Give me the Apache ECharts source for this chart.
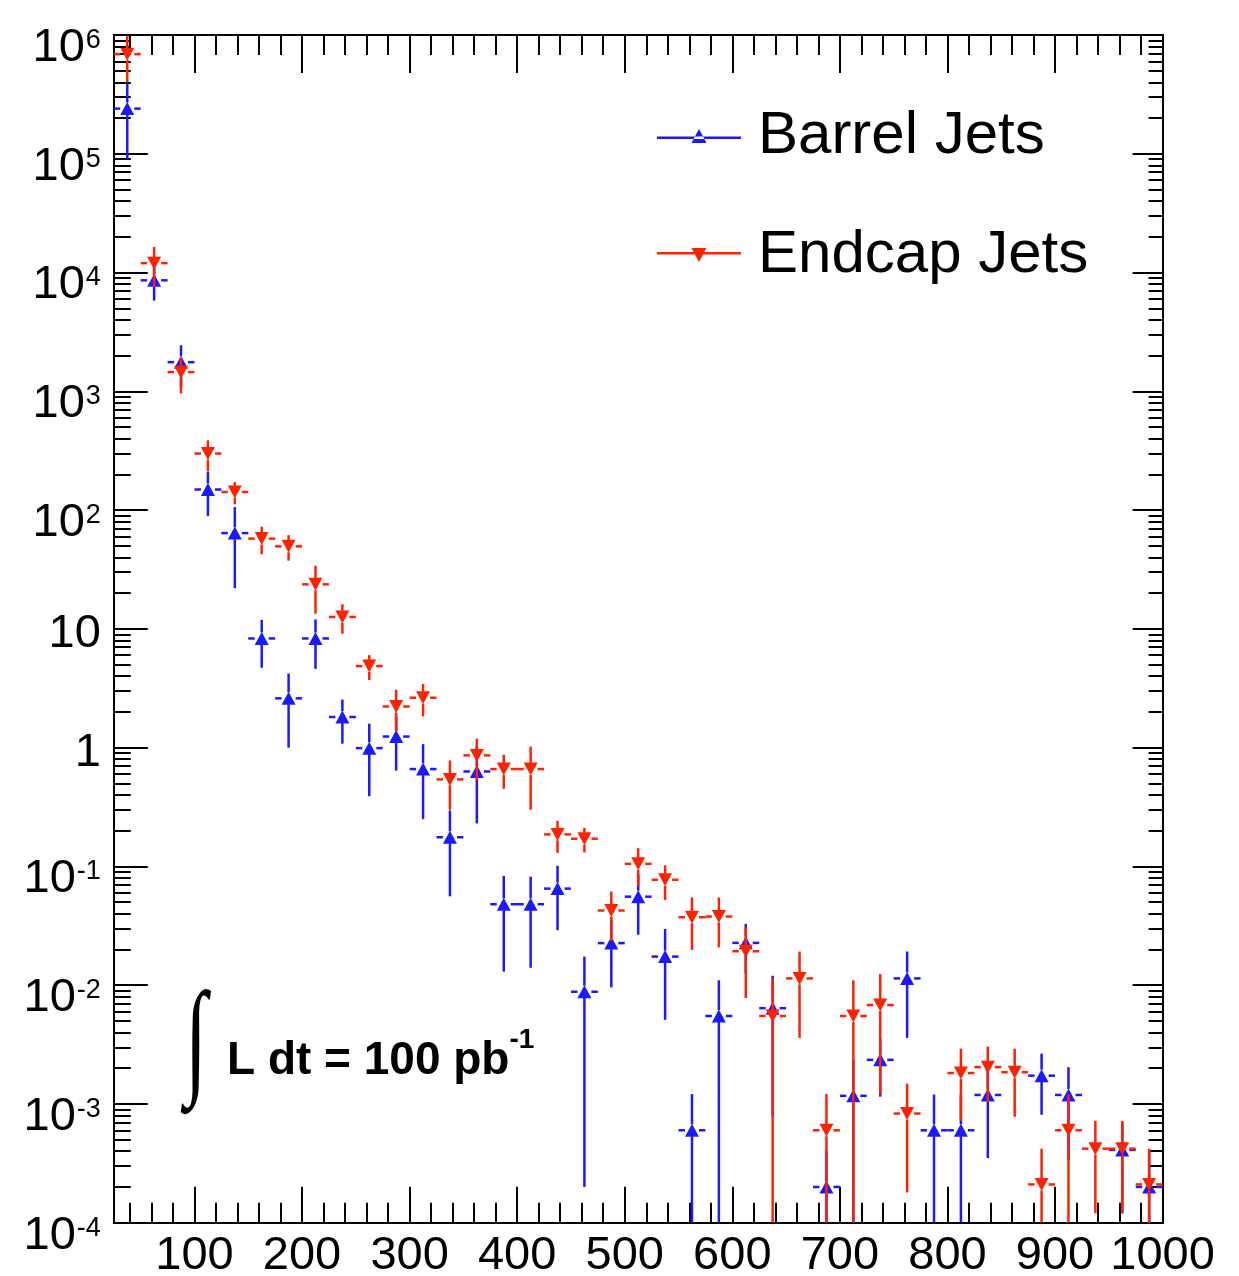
<!DOCTYPE html>
<html><head><meta charset="utf-8">
<script src="https://cdn.jsdelivr.net/npm/echarts@6/dist/echarts.min.js"></script>
<style>html,body{margin:0;padding:0;background:#fff;}#c{width:1239px;height:1276px;}</style>
</head><body><div id="c"></div>
<script>
// ---- data ----
const BIN_WIDTH = 25;
const binCenters = [37.5, 62.5, 87.5, 112.5, 137.5, 162.5, 187.5, 212.5, 237.5, 262.5,
  287.5, 312.5, 337.5, 362.5, 387.5, 412.5, 437.5, 462.5, 487.5, 512.5,
  537.5, 562.5, 587.5, 612.5, 637.5, 662.5, 687.5, 712.5, 737.5, 762.5,
  787.5, 812.5, 837.5, 862.5, 887.5, 912.5, 937.5, 962.5, 987.5];
const barrelValues = [2.4e5, 8.6e3, 1760, 149, 64, 8.3, 2.6, 8.3, 1.81, 0.99,
  1.24, 0.66, 0.176, 0.63, 0.048, 0.048, 0.065, 0.0088, 0.0226, 0.0556,
  0.0174, 6.0e-4, 0.0055, 0.0227, 0.0064, null, 2.0e-4, 1.17e-3, 2.35e-3, 0.0114,
  6.0e-4, 6.0e-4, 1.19e-3, null, 1.73e-3, 1.19e-3, null, 4.1e-4, 2.0e-4];
const barrelErrors = [1.5e5, 2.8e3, 680, 60, 42, 3.6, 1.6, 3.7, 0.73, 0.6,
  0.6, 0.41, 0.12, 0.4, 0.035, 0.034, 0.036, 0.0086, 0.013, 0.029,
  0.0123, 6.1e-4, 0.0055, 0.0101, 0.0056, null, 2.0e-4, 1.17e-3, 1.2e-3, 0.0078,
  6.0e-4, 6.0e-4, 8.4e-4, null, 9.2e-4, 8.5e-4, null, 2.9e-4, 2.0e-4];
const endcapValues = [6.9e5, 1.2e4, 1450, 299, 142, 57.5, 49.5, 23.7, 12.6, 4.86,
  2.22, 2.63, 0.54, 0.86, 0.66, 0.66, 0.186, 0.171, 0.0425, 0.105,
  0.0771, 0.0373, 0.0378, 0.0193, 0.0055, 0.0114, 6.0e-4, 0.0055, 0.0068, 8.3e-4,
  null, 1.82e-3, 2.04e-3, 1.85e-3, 2.1e-4, 6.0e-4, 4.2e-4, 4.2e-4, 2.1e-4];
const endcapErrors = [2.9e5, 4.4e3, 490, 88, 30, 15, 12, 10.3, 3.5, 1.15,
  0.85, 0.8, 0.24, 0.33, 0.21, 0.36, 0.056, 0.04, 0.019, 0.037,
  0.025, 0.0175, 0.017, 0.0115, 0.0059, 0.0078, 6.1e-4, 0.0055, 0.0056, 6.5e-4,
  null, 1.1e-3, 1.0e-3, 1.07e-3, 2.1e-4, 6.0e-4, 3.0e-4, 3.0e-4, 2.1e-4];
const seriesNames = ['Barrel Jets', 'Endcap Jets'];
const xTickLabels = [100, 200, 300, 400, 500, 600, 700, 800, 900, 1000];
const yTickValues = [1e-4, 1e-3, 1e-2, 1e-1, 1, 10, 1e2, 1e3, 1e4, 1e5, 1e6];
const yTickExponents = [-4, -3, -2, -1, 0, 1, 2, 3, 4, 5, 6];
const annotationText = 'L dt = 100 pb';
const annotationSup = '-1';

// ---- styling ----
const FONT = '"Liberation Sans Narrow", "Liberation Sans", Arial, sans-serif';
const BLUE = '#1a1aff';
const RED = '#ff2200';
const X_MIN = 25, X_MAX = 1000, Y_MIN = 1e-4, Y_MAX = 1e6;

const xMinorTicks = [];
for (let v = 40; v < X_MAX; v += 20) if (v % 100 !== 0) xMinorTicks.push(v);
const yMinorTicks = [];
for (let n = -4; n < 6; n++) for (let k = 2; k <= 9; k++) yMinorTicks.push(k * Math.pow(10, n));

function pointData(vals) {
  const out = [];
  binCenters.forEach((c, i) => { if (vals[i] != null) out.push([c, vals[i]]); });
  return out;
}
function errData(vals, errs) {
  const out = [];
  binCenters.forEach((c, i) => { if (vals[i] != null) out.push([c, vals[i], errs[i]]); });
  return out;
}
function makeErrRender(color) {
  return function (params, api) {
    const x = api.value(0), v = api.value(1), e = api.value(2);
    const cs = params.coordSys;
    const top = cs.y, bottom = cs.y + cs.height;
    const c = api.coord([x, v]);
    const yHi = Math.max(top, api.coord([x, v + e])[1]);
    const yLo = (v - e) > 0 ? Math.min(bottom, api.coord([x, v - e])[1]) : bottom;
    const xL = Math.max(cs.x, api.coord([x - BIN_WIDTH / 2, v])[0]);
    const xR = Math.min(cs.x + cs.width, api.coord([x + BIN_WIDTH / 2, v])[0]);
    const GV = 6, GH = 7;
    const st = () => ({ stroke: color, lineWidth: 2.5, fill: null });
    const ch = [];
    if (c[1] - GV > yHi) ch.push({ type: 'line', shape: { x1: c[0], y1: yHi, x2: c[0], y2: c[1] - GV }, style: st() });
    if (yLo > c[1] + GV) ch.push({ type: 'line', shape: { x1: c[0], y1: c[1] + GV, x2: c[0], y2: yLo }, style: st() });
    ch.push({ type: 'line', shape: { x1: xL, y1: c[1], x2: c[0] - GH, y2: c[1] }, style: st() });
    ch.push({ type: 'line', shape: { x1: c[0] + GH, y1: c[1], x2: xR, y2: c[1] }, style: st() });
    return { type: 'group', children: ch };
  };
}

const AXIS_LINE = { show: true, lineStyle: { color: '#000', width: 2 } };
function xAxisDef(pos, ticks, len, labels) {
  return {
    type: 'value', position: pos, min: X_MIN, max: X_MAX, gridIndex: 0,
    axisLine: AXIS_LINE, splitLine: { show: false },
    axisTick: { show: true, inside: true, length: len, customValues: ticks, lineStyle: { color: '#000', width: 2 } },
    axisLabel: labels ? {
      show: true, customValues: xTickLabels, margin: 10, fontSize: 47, fontFamily: FONT, color: '#000',
      formatter: v => String(v)
    } : { show: false }
  };
}
function yAxisDef(pos, ticks, len, labels) {
  return {
    type: 'log', logBase: 10, position: pos, min: Y_MIN, max: Y_MAX, gridIndex: 0,
    axisLine: AXIS_LINE, splitLine: { show: false },
    axisTick: { show: true, inside: true, length: len, customValues: ticks, lineStyle: { color: '#000', width: 2 } },
    axisLabel: labels ? {
      show: true, customValues: yTickValues, margin: 13, fontFamily: FONT, color: '#000',
      formatter: v => {
        const i = yTickValues.findIndex(t => Math.abs(Math.log10(t) - Math.log10(v)) < 1e-6);
        const n = yTickExponents[i];
        if (n === 0) return '{p|1}';
        if (n === 1) return '{p|10}';
        return '{m|10}{s|' + n + '}';
      },
      rich: {
        p: { fontSize: 47, fontFamily: FONT, color: '#000', lineHeight: 40, padding: [10, 0, 0, 0] },
        m: { fontSize: 47, fontFamily: FONT, color: '#000', lineHeight: 40, padding: [26, 1, 0, 0] },
        s: { fontSize: 27, fontFamily: FONT, color: '#000', lineHeight: 28, verticalAlign: 'top', padding: [12, 0, 0, 0] }
      }
    } : { show: false }
  };
}

const chart = echarts.init(document.getElementById('c'), null, { renderer: 'canvas' });
chart.setOption({
  animation: false,
  backgroundColor: '#fff',
  grid: { left: 113.8, top: 35, right: 76.4, bottom: 53.3, containLabel: false, outerBoundsMode: 'none' },
  xAxis: [
    xAxisDef('bottom', xTickLabels, 36, true),
    xAxisDef('bottom', xMinorTicks, 20, false),
    xAxisDef('top', xTickLabels, 38, false),
    xAxisDef('top', xMinorTicks, 20, false)
  ],
  yAxis: [
    yAxisDef('left', yTickValues, 34, true),
    yAxisDef('left', yMinorTicks, 17, false),
    yAxisDef('right', yTickValues, 30, false),
    yAxisDef('right', yMinorTicks, 14, false)
  ],
  legend: {
    orient: 'vertical', left: 657, top: 96, padding: 0, itemWidth: 84, itemHeight: 15, itemGap: 39,
    selectedMode: false,
    data: [
      { name: seriesNames[0], icon: 'path://M0,8.5L84,8.5L84,11L0,11ZM34.5,15L49.5,15L42,1Z' },
      { name: seriesNames[1], icon: 'path://M0,4L84,4L84,6.5L0,6.5ZM34.5,0L49.5,0L42,14Z' }
    ],
    textStyle: { fontSize: 60, lineHeight: 70, fontFamily: FONT, color: '#000', padding: [10, 0, 0, 12] }
  },
  graphic: [
    { type: 'text', left: 185, top: 983, z: 100, scaleX: 0.68, scaleY: 1.08,
      style: { text: '\u222B', font: '118px "Liberation Serif"', fill: '#000' } },
    { type: 'text', left: 227, top: 1026, z: 100,
      style: {
        text: '{m|' + annotationText + '}{s|' + annotationSup + '}',
        rich: {
          m: { fontSize: 46, fontWeight: 'bold', fontFamily: FONT, fill: '#000', lineHeight: 70 },
          s: { fontSize: 28, fontWeight: 'bold', fontFamily: FONT, fill: '#000', lineHeight: 30, verticalAlign: 'top', padding: [0, 0, 0, 0] }
        }
      } }
  ],
  series: [
    { name: seriesNames[0] + ' errors', type: 'custom', xAxisIndex: 0, yAxisIndex: 0, z: 2,
      renderItem: makeErrRender(BLUE), data: errData(barrelValues, barrelErrors) },
    { name: seriesNames[0], type: 'scatter', xAxisIndex: 0, yAxisIndex: 0, z: 3,
      symbol: 'triangle', symbolSize: [14, 13], itemStyle: { color: BLUE, opacity: 1 },
      data: pointData(barrelValues) },
    { name: seriesNames[1] + ' errors', type: 'custom', xAxisIndex: 0, yAxisIndex: 0, z: 4,
      renderItem: makeErrRender(RED), data: errData(endcapValues, endcapErrors) },
    { name: seriesNames[1], type: 'scatter', xAxisIndex: 0, yAxisIndex: 0, z: 5,
      symbol: 'triangle', symbolRotate: 180, symbolSize: [14, 13], itemStyle: { color: RED, opacity: 1 },
      data: pointData(endcapValues) }
  ]
});
</script></body></html>
